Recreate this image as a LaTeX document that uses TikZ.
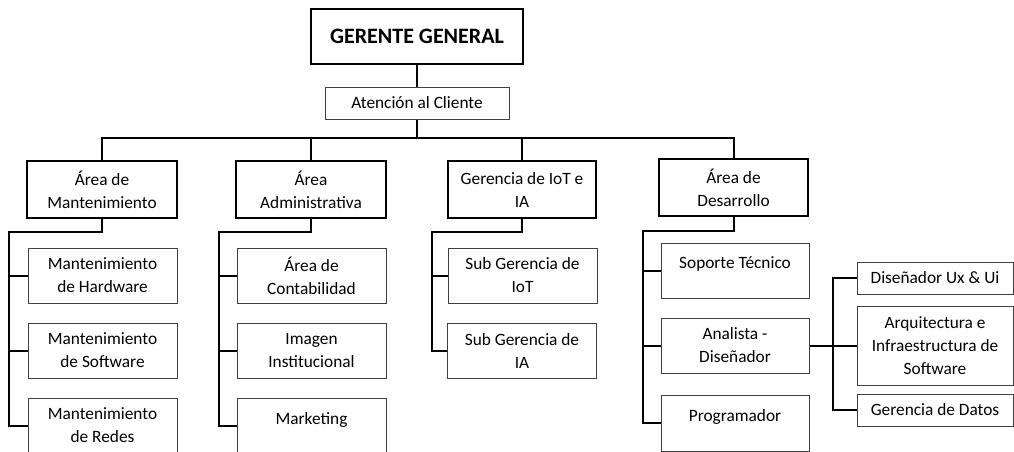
\documentclass[tikz,border=0pt]{standalone}
\usepackage{fontspec}
\setmainfont{Carlito}
\begin{document}
\begin{tikzpicture}[x=1pt,y=-1pt]
\tikzset{
  box/.style={draw=black!75, line width=1pt, minimum width=149pt, minimum height=55pt,
    inner sep=0pt, align=center, font=\fontsize{17.3}{23}\selectfont},
  head/.style={box, draw=black, line width=2pt, minimum width=150pt, minimum height=57pt},
  conn/.style={line width=2pt, draw=black},
}
\useasboundingbox (0,0) rectangle (1014,452);
% top
\node[head, minimum width=212pt, minimum height=55pt, font=\bfseries\fontsize{22}{26}\selectfont] (gg) at (417,36.5) {GERENTE GENERAL};
\node[box, minimum width=184pt, minimum height=32pt] (ac) at (417,103) {Atención al Cliente};
% level 1
\node[head] (m) at (102,189.5) {Área de\\Mantenimiento};
\node[head] (a) at (311,189.5) {Área\\Administrativa};
\node[head, minimum width=148pt] (i) at (522,189.5) {Gerencia de IoT e\\IA};
\node[head, minimum width=149pt] (d) at (733.5,187.5) {Área de\\Desarrollo};
\draw[conn] (gg) -- (ac);
\draw[conn] (ac.south) -- ++(0,18) coordinate (bus);
\draw[conn] (m.north) |- (bus) -| (d.north);
\draw[conn] (a.north) -- (a.north |- bus);
\draw[conn] (i.north) -- (i.north |- bus);
% Mantenimiento
\node[box] (m1) at (102.5,275.5) {Mantenimiento\\de Hardware};
\node[box] (m2) at (102.5,350.5) {Mantenimiento\\de Software};
\node[box] (m3) at (102.5,425.5) {Mantenimiento\\de Redes};
\coordinate (ms) at (9,232);
\draw[conn] (m.south) |- (ms) |- (m3.west);
\draw[conn] (m1.west) -- (m1.west -| ms);
\draw[conn] (m2.west) -- (m2.west -| ms);
% Administrativa
\node[box] (a1) at (311.5,275.5) {Área de\\Contabilidad};
\node[box] (a2) at (311.5,350.5) {Imagen\\Institucional};
\node[box] (a3) at (311.5,425.5) {Marketing\\[-8pt]\mbox{}};
\coordinate (as) at (219,232);
\draw[conn] (a.south) |- (as) |- (a3.west);
\draw[conn] (a1.west) -- (a1.west -| as);
\draw[conn] (a2.west) -- (a2.west -| as);
% IoT
\node[box] (i1) at (522.5,275.5) {Sub Gerencia de\\IoT};
\node[box] (i2) at (522,350.5) {Sub Gerencia de\\IA};
\coordinate (is) at (432,232);
\draw[conn] (i.south) |- (is) |- (i2.west);
\draw[conn] (i1.west) -- (i1.west -| is);
% Desarrollo
\node[box, minimum width=148pt] (d1) at (735,270.5) {Soporte Técnico\\[-8pt]\mbox{}};
\node[box, minimum width=148pt] (d2) at (735,345.5) {Analista -\\Diseñador};
\node[box, minimum width=148pt, minimum height=56pt] (d3) at (735,423) {Programador\\[-8pt]\mbox{}};
\coordinate (ds) at (643,231);
\draw[conn] (d.south) |- (ds) |- (d3.west);
\draw[conn] (d1.west) -- (d1.west -| ds);
\draw[conn] (d2.west) -- (d2.west -| ds);
% Analista children
\node[box, minimum width=156pt, minimum height=32pt] (r1) at (935,278) {Diseñador Ux \& Ui};
\node[box, minimum width=156pt, minimum height=79pt] (r2) at (935,345.5) {Arquitectura e\\Infraestructura de\\Software};
\node[box, minimum width=156pt, minimum height=32pt] (r3) at (935,410) {Gerencia de Datos};
\coordinate (rs) at (833,345.5);
\draw[conn] (d2.east) -- (r2.west);
\draw[conn] (r1.west) -| (rs) |- (r3.west);
\end{tikzpicture}
\end{document}
